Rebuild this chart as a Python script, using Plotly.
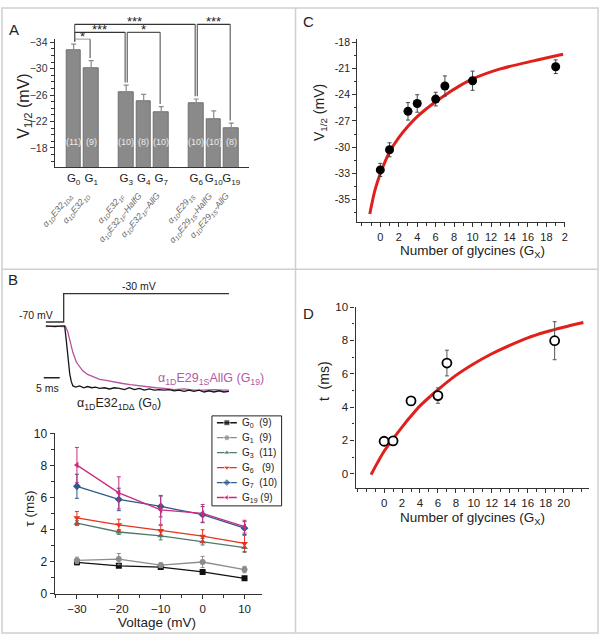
import plotly.graph_objects as go

W, H = 605, 642
FONT = "Liberation Sans, Arial, sans-serif"


def px(x):
    return x / W


def py(y):
    return 1 - y / H


# ---------------- Panel A data ----------------
a_ticklabels = ["G<sub>0</sub>", "G<sub>1</sub>", "G<sub>3</sub>", "G<sub>4</sub>", "G<sub>7</sub>",
                "G<sub>6</sub>", "G<sub>10</sub>", "G<sub>19</sub>"]
a_slots = [0, 1, 3, 4, 5, 7, 8, 9]
a_v12 = [-32.8, -30.1, -26.4, -25.1, -23.4, -24.7, -22.4, -21.0]
a_err = [0.9, 1.1, 1.1, 1.0, 0.85, 0.7, 1.2, 0.75]
a_n = ["(11)", "(9)", "(10)", "(8)", "(10)", "(10)", "(10)", "(8)"]
a_constructs = [
    "α<sub>1D</sub>E32<sub>1DΔ</sub>",
    "α<sub>1D</sub>E32<sub>1D</sub>",
    "α<sub>1D</sub>E32<sub>1F</sub>",
    "α<sub>1D</sub>E32<sub>1F</sub>-HalfG",
    "α<sub>1D</sub>E32<sub>1F</sub>-AllG",
    "α<sub>1D</sub>E29<sub>1S</sub>",
    "α<sub>1D</sub>E29<sub>1S</sub>-HalfG",
    "α<sub>1D</sub>E29<sub>1S</sub>-AllG",
]
# significance brackets: (from slot, to slot, level mV, stars, colour)
a_sig = [
    (0, 7, -36.7, "***", "#333333"),
    (7, 9, -36.7, "***", "#333333"),
    (0, 3, -35.5, "***", "#333333"),
    (3, 5, -35.5, "*", "#555555"),
    (0, 1, -34.45, "*", "#aaaaaa"),
]

# ---------------- Panel B (traces) ----------------
tr_black_t = [1.9, 4.7, 6.9, 7.8, 8.3, 8.8, 9.4, 9.9, 10.4, 11.3, 12.5, 13.8, 15.0, 16.3, 17.5, 18.8,
              20.3, 21.9, 23.4, 25.0, 26.6, 28.1, 29.7, 31.3, 32.8, 34.4, 35.9, 37.5, 39.1, 40.6,
              42.2, 43.8, 45.3, 46.9, 48.4, 50.0, 51.6, 53.1, 54.7, 56.3, 57.8, 59.4]
tr_black_i = [0.0, -0.01, 0.0, 0.0, -0.23, -0.55, -0.79, -0.92, -0.99, -1.01, -0.99, -1.02, -1.0,
              -1.02, -1.01, -1.03, -1.02, -1.04, -1.02, -1.03, -1.05, -1.02, -1.05, -1.03, -1.06,
              -1.04, -1.06, -1.05, -1.06, -1.05, -1.07, -1.06, -1.08, -1.06, -1.08, -1.06, -1.09,
              -1.07, -1.09, -1.07, -1.09, -1.08]
tr_mag_t = [1.9, 4.7, 6.9, 8.1, 8.8, 9.4, 10.4, 11.5, 12.5, 13.5, 15.0, 16.7, 18.8, 20.8, 23.4, 26.0,
            28.4, 31.3, 33.8, 36.5, 39.1, 42.2, 45.3, 48.4, 51.6, 54.7, 57.8, 59.4]
tr_mag_i = [-0.01, 0.0, -0.01, -0.01, -0.1, -0.23, -0.44, -0.6, -0.68, -0.74, -0.8, -0.84, -0.88,
            -0.9, -0.93, -0.95, -0.97, -0.99, -1.01, -1.02, -1.03, -1.05, -1.04, -1.06, -1.06,
            -1.05, -1.06, -1.06]
prot_t = [1.9, 7.5, 7.5, 59.4]
prot_v = [-70, -70, -30, -30]
scale_t = [1.25, 6.25]          # 5 ms scale bar
scale_i = [-0.855, -0.855]

# ---------------- Panel B (tau vs voltage) ----------------
b_volt = [-30, -20, -10, 0, 10]
b_series = [
    ("G<sub>0</sub>  (9)", [1.97, 1.75, 1.67, 1.37, 0.97], [0.15, 0.1, 0.1, 0.1, 0.08], "#111111", "square"),
    ("G<sub>1</sub>  (9)", [2.09, 2.17, 1.79, 1.99, 1.52], [0.2, 0.35, 0.15, 0.35, 0.2], "#8c8c8c", "circle"),
    ("G<sub>3</sub>  (11)", [4.41, 3.86, 3.62, 3.25, 2.89], [0.15, 0.15, 0.25, 0.2, 0.3], "#4e7a6a", "triangle-up"),
    ("G<sub>6</sub>   (9)", [4.74, 4.31, 3.96, 3.6, 3.15], [0.4, 0.35, 0.3, 0.4, 0.5], "#e8321e", "triangle-down"),
    ("G<sub>7</sub>  (10)", [6.71, 5.89, 5.45, 4.94, 4.1], [0.75, 0.7, 0.65, 0.5, 0.4], "#2c5b8c", "diamond"),
    ("G<sub>19</sub> (9)", [8.03, 6.3, 5.24, 5.02, 4.19], [1.1, 1.0, 0.9, 0.55, 0.4], "#cc2a80", "triangle-left"),
]

# ---------------- Panel C ----------------
c_gly = [0, 1, 3, 4, 6, 7, 10, 19]
c_v12 = [-32.6, -30.3, -25.9, -25.0, -24.5, -23.0, -22.4, -20.8]
c_err = [0.75, 0.8, 1.0, 1.0, 0.78, 1.15, 1.1, 0.78]
c_fit_x = [-1.14, -0.6, 0, 0.5, 1, 2, 3, 4, 5, 6, 7, 8.5, 10, 13, 16.6, 19.8]
c_fit_y = [-37.65, -35.0, -33.0, -31.7, -30.55, -28.9, -27.6, -26.5, -25.6, -24.8, -24.05,
           -23.05, -22.2, -21.05, -20.13, -19.38]
c_tickvals = [-36, -33, -30, -27, -24, -21, -18]
c_ticktext = ["-35", "-33", "-30", "-27", "-24", "-21", "-18"]
c_xtickvals = [0, 2, 4, 6, 8, 10, 12, 14, 16, 18, 20]
c_xticktext = ["0", "2", "4", "6", "8", "10", "12", "14", "16", "18", "2"]

# ---------------- Panel D ----------------
d_gly = [0, 1, 3, 6, 7, 19]
d_tau = [1.95, 1.97, 4.37, 4.69, 6.64, 7.98]
d_err = [0.12, 0.2, 0.12, 0.46, 0.77, 1.14]
d_fit_x = [-1.45, -0.7, 0, 1, 2, 3, 4, 6, 8, 10, 12, 14, 16, 18, 20, 22.2]
d_fit_y = [-0.05, 0.7, 1.35, 2.1, 2.8, 3.46, 4.07, 5.04, 5.9, 6.6, 7.2, 7.7, 8.15, 8.5, 8.79, 9.07]
d_xtickvals = [0, 2, 4, 6, 8, 10, 12, 14, 16, 18, 20]

# ---------------- layout geometry ----------------
A_X = [px(55), px(250)]
A_Y = [py(164), py(33)]
A_YR = [-15.04, -34.44]
A_XR = [-1.08, 10.0]


def a_y(v):
    return A_Y[0] + (v - A_YR[0]) / (A_YR[1] - A_YR[0]) * (A_Y[1] - A_Y[0])


fig = go.Figure()

# Panel A bars
fig.add_trace(go.Bar(
    x=a_slots, y=a_v12, width=0.82, xaxis="x", yaxis="y",
    marker=dict(color="#8a8a8a", line=dict(color="#6f6f6f", width=1)),
    error_y=dict(type="data", symmetric=False, array=[0] * len(a_err), arrayminus=a_err,
                 color="#8a8a8a", thickness=1.2, width=2.5),
    hoverinfo="skip"))

# Panel B traces
fig.add_trace(go.Scatter(x=prot_t, y=prot_v, xaxis="x2", yaxis="y6", mode="lines",
                         line=dict(color="#333333", width=1.3)))
fig.add_trace(go.Scatter(x=tr_mag_t, y=tr_mag_i, xaxis="x2", yaxis="y2", mode="lines",
                         line=dict(color="#b4529f", width=1.3)))
fig.add_trace(go.Scatter(x=tr_black_t, y=tr_black_i, xaxis="x2", yaxis="y2", mode="lines",
                         line=dict(color="#151515", width=1.3)))
fig.add_trace(go.Scatter(x=scale_t, y=scale_i, xaxis="x2", yaxis="y2", mode="lines",
                         line=dict(color="#222222", width=1.5)))

annotations = []
shapes = []

# Panel B tau plot + hand-built legend (compact, like the original)
for k, (name, vals, errs, col, sym) in enumerate(b_series):
    fig.add_trace(go.Scatter(
        x=b_volt, y=vals, xaxis="x3", yaxis="y3", mode="lines+markers", name=name,
        line=dict(color=col, width=1.3), marker=dict(color=col, symbol=sym, size=6),
        error_y=dict(type="data", array=errs, color=col, thickness=1, width=2)))
    fig.add_trace(go.Scatter(
        x=[5, 15, 25], y=[k, k, k], xaxis="x6", yaxis="y7", mode="lines+markers",
        line=dict(color=col, width=1.3), marker=dict(color=col, symbol=sym, size=[0, 6, 0])))
    annotations.append(dict(x=28.5, y=k, xref="x6", yref="y7", text=name, showarrow=False,
                            xanchor="left", yanchor="middle",
                            font=dict(family=FONT, size=10, color="#222222")))
shapes.append(dict(type="rect", xref="paper", yref="paper", x0=px(213), x1=px(283), y0=py(510),
                   y1=py(418), line=dict(color="#222222", width=1), fillcolor="white", layer="below"))

# Panel C
fig.add_trace(go.Scatter(x=c_fit_x, y=c_fit_y, xaxis="x4", yaxis="y4", mode="lines",
                         line=dict(color="#e0201c", width=3, shape="spline", smoothing=0.8)))
fig.add_trace(go.Scatter(x=c_gly, y=c_v12, xaxis="x4", yaxis="y4", mode="markers",
                         marker=dict(color="#000000", size=9),
                         error_y=dict(type="data", array=c_err, color="#444444", thickness=1, width=2)))

# Panel D
fig.add_trace(go.Scatter(x=d_fit_x, y=d_fit_y, xaxis="x5", yaxis="y5", mode="lines",
                         line=dict(color="#e0201c", width=3, shape="spline", smoothing=0.8)))
fig.add_trace(go.Scatter(x=d_gly, y=d_tau, xaxis="x5", yaxis="y5", mode="markers",
                         marker=dict(color="white", size=9, line=dict(color="#000000", width=1.8)),
                         error_y=dict(type="data", array=d_err, color="#555555", thickness=1, width=2)))

axis_common = dict(showline=True, linecolor="#333333", linewidth=1.2, ticks="outside", ticklen=4,
                   tickcolor="#333333", tickwidth=1, showgrid=False, zeroline=False,
                   tickfont=dict(family=FONT, size=11, color="#222222"))

# ---- A annotations ----
for s, n in zip(a_slots, a_n):
    annotations.append(dict(x=s, y=-18.9, xref="x", yref="y", text=n, showarrow=False,
                            font=dict(family=FONT, size=9, color="#ececec")))
for s, lab in zip(a_slots, a_constructs):
    annotations.append(dict(x=s + 0.22, y=py(185), xref="x", yref="paper", text="<i>" + lab + "</i>",
                            showarrow=False, textangle=-50, xanchor="right", yanchor="top",
                            font=dict(family=FONT, size=8.8, color="#666666")))
slot_top = {s: v - e for s, v, e in zip(a_slots, a_v12, a_err)}
for a, b, lev, stars, col in a_sig:
    xa, xb = a + 0.06, b - 0.06
    ylev = a_y(lev)
    shapes.append(dict(type="line", xref="x", yref="paper", x0=xa, x1=xb, y0=ylev, y1=ylev,
                       line=dict(color=col, width=1.2)))
    for xs, s in ((xa, a), (xb, b)):
        shapes.append(dict(type="line", xref="x", yref="paper", x0=xs, x1=xs, y0=ylev,
                           y1=a_y(slot_top[s] - 0.4), line=dict(color="#555555", width=1.1)))
    annotations.append(dict(x=(a + b) / 2, y=ylev, xref="x", yref="paper", text=stars,
                            showarrow=False, yanchor="bottom", yshift=-7,
                            font=dict(family=FONT, size=13, color="#222222")))


# ---- text annotations (paper) ----
def ann(x, y, text, size, color="#222222", angle=0, xanchor="center"):
    annotations.append(dict(x=px(x), y=py(y), xref="paper", yref="paper", text=text, showarrow=False,
                            textangle=angle, xanchor=xanchor, yanchor="middle",
                            font=dict(family=FONT, size=size, color=color)))


ann(14, 23, "A", 15)
ann(13, 279, "B", 15)
ann(310, 15, "C", 15)
ann(310, 313, "D", 15)

ann(25, 101, "V<sub>1/2</sub> (mV)", 16, angle=-90)
ann(36, 315, "-70 mV", 10.5)
ann(140, 285, "-30 mV", 10.5)
ann(48, 389, "5 ms", 10.5)
ann(157, 380, "α<sub>1D</sub>E29<sub>1S</sub>AllG (G<sub>19</sub>)", 12.5, color="#b35aa6", xanchor="left")
ann(75, 406, "α<sub>1D</sub>E32<sub>1DΔ</sub> (G<sub>0</sub>)", 12.5, xanchor="left")
ann(30, 513, "τ (ms)", 13.5, angle=-90)
ann(158, 629, "Voltage (mV)", 13.5)
ann(321, 108, "V<sub>1/2</sub> (mV)", 14, angle=-90)
ann(475, 250, "Number of glycines (G<sub>X</sub>)", 13.5)
ann(325, 382, "t  (ms)", 14, angle=-90)
ann(475, 523, "Number of glycines (G<sub>X</sub>)", 13.5)

# ---- frame ----
frame_col = "#cfcfcf"
shapes.append(dict(type="rect", xref="paper", yref="paper", x0=px(2), x1=px(601), y0=py(640), y1=py(1),
                   line=dict(color=frame_col, width=1.5)))
shapes.append(dict(type="line", xref="paper", yref="paper", x0=px(297), x1=px(297), y0=py(640), y1=py(1),
                   line=dict(color=frame_col, width=1.5)))
shapes.append(dict(type="line", xref="paper", yref="paper", x0=px(2), x1=px(601), y0=py(268), y1=py(268),
                   line=dict(color=frame_col, width=1.5)))

minor1 = dict(ticks="outside", ticklen=2.5, tickcolor="#333333", showgrid=False)

fig.update_layout(
    width=W, height=H, autosize=False,
    margin=dict(l=0, r=0, t=0, b=0, pad=0),
    paper_bgcolor="white", plot_bgcolor="rgba(0,0,0,0)",
    font=dict(family=FONT, color="#222222"),
    bargap=0,
    annotations=annotations, shapes=shapes,
    showlegend=False,
    # A
    xaxis=dict(axis_common, domain=A_X, range=A_XR, anchor="y", tickmode="array", tickvals=a_slots,
               ticktext=a_ticklabels, ticks="", tickangle=0,
               tickfont=dict(family=FONT, size=11.5, color="#222222")),
    yaxis=dict(axis_common, domain=A_Y, range=A_YR, anchor="x", tickmode="linear", tick0=-34, dtick=4,
               tickfont=dict(family=FONT, size=10.5, color="#333333"),
               minor=dict(minor1, tickmode="linear", tick0=-34, dtick=1)),
    # B traces
    xaxis2=dict(domain=[px(40), px(240)], range=[0, 62.5], anchor="y2", visible=False),
    yaxis2=dict(domain=[py(410), py(300)], range=[-1.355, 0.42], anchor="x2", visible=False),
    yaxis6=dict(domain=[py(330), py(285)], range=[-81, -19], anchor="x2", visible=False),
    # B legend box axes
    xaxis6=dict(domain=[px(213), px(283)], range=[0, 70], anchor="y7", visible=False),
    yaxis7=dict(domain=[py(510), py(418)], range=[5.56, -0.46], anchor="x6", visible=False),
    # B tau
    xaxis3=dict(axis_common, domain=[px(55), px(263)], range=[-35.3, 14.1], anchor="y3",
                tickmode="linear", tick0=-30, dtick=10,
                tickfont=dict(family=FONT, size=11.5, color="#222222"),
                minor=dict(minor1, tickmode="linear", tick0=-30, dtick=5)),
    yaxis3=dict(axis_common, domain=[py(600), py(436)], range=[0, 10], anchor="x3",
                tickmode="linear", tick0=0, dtick=2,
                tickfont=dict(family=FONT, size=12, color="#222222"),
                minor=dict(minor1, tickmode="linear", tick0=0, dtick=1)),
    # C
    xaxis4=dict(axis_common, domain=[px(359), px(568)], range=[-2.5, 20.03], anchor="y4",
                tickmode="array", tickvals=c_xtickvals, ticktext=c_xticktext,
                tickfont=dict(family=FONT, size=11, color="#222222"),
                minor=dict(minor1, tickmode="linear", tick0=0, dtick=1)),
    yaxis4=dict(axis_common, domain=[py(220), py(33)], range=[-38.58, -17.66], anchor="x4",
                tickmode="array", tickvals=c_tickvals, ticktext=c_ticktext,
                tickfont=dict(family=FONT, size=10.5, color="#222222"),
                minor=dict(minor1, tickmode="linear", tick0=-18, dtick=1.5)),
    # D
    xaxis5=dict(axis_common, domain=[px(357.3), px(591.7)], range=[-3.18, 22.8], anchor="y5",
                tickmode="array", tickvals=d_xtickvals,
                tickfont=dict(family=FONT, size=11.5, color="#222222"),
                minor=dict(minor1, tickmode="linear", tick0=0, dtick=1)),
    yaxis5=dict(axis_common, domain=[py(491.7), py(306.7)], range=[-0.85, 10.0], anchor="x5",
                tickmode="linear", tick0=0, dtick=2,
                tickfont=dict(family=FONT, size=11.5, color="#222222"),
                minor=dict(minor1, tickmode="linear", tick0=0, dtick=1)),
)

fig.write_html("out.html", config={"displayModeBar": False},
               post_script="document.body.style.margin='0';")
